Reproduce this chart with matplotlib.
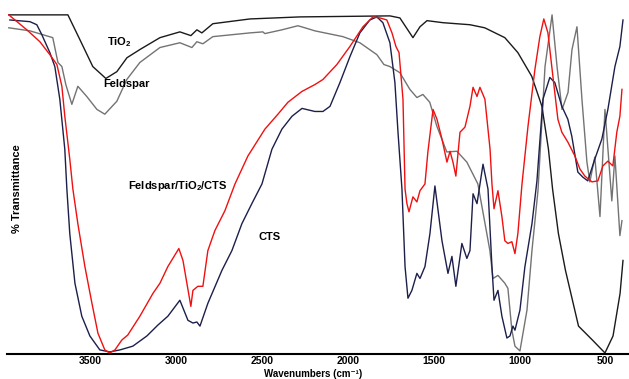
"""FTIR spectra: TiO2, Feldspar, CTS and the Feldspar/TiO2/CTS composite."""
import matplotlib

matplotlib.use("Agg")
import matplotlib.pyplot as plt  # noqa: E402

plt.rcParams["font.family"] = ["Liberation Sans", "DejaVu Sans"]
plt.rcParams["font.weight"] = "bold"
plt.rcParams["mathtext.fontset"] = "custom"
plt.rcParams["mathtext.rm"] = "Liberation Sans:bold"
plt.rcParams["mathtext.it"] = "Liberation Sans:bold"
plt.rcParams["mathtext.bf"] = "Liberation Sans:bold"

# --- data (wavenumber cm-1, %T arbitrary 0-100) ---
tio2_wn = [3976, 3632, 3562, 3487, 3411, 3347, 3288, 3213, 3096, 2980, 2916, 2881,
           2852, 2788, 2572, 2281, 1757, 1699, 1623, 1582, 1541, 1448, 1291, 1205,
           1088, 1012, 931, 872, 834, 810, 776, 735, 659, 578, 505, 458, 417, 400]
tio2_t = [99.7, 99.7, 92.4, 84.5, 81.0, 83.0, 87.1, 89.5, 93.0, 94.7, 93.6, 95.3,
          94.4, 97.1, 98.5, 99.1, 99.4, 98.8, 93.0, 96.2, 98.0, 97.4, 96.8, 95.9,
          93.0, 88.6, 81.6, 72.8, 60.2, 48.5, 35.4, 24.6, 8.2, 4.1, 0.3, 5.3, 17.8, 27.5]

feld_wn = [3976, 3853, 3720, 3690, 3667, 3644, 3609, 3574, 3522, 3463, 3417, 3347,
           3289, 3213, 3096, 2980, 2910, 2881, 2846, 2788, 2572, 2497, 2485, 2386,
           2293, 2252, 2194, 2031, 1932, 1833, 1792, 1757, 1699, 1641, 1600, 1565,
           1525, 1484, 1426, 1367, 1309, 1245, 1175, 1157, 1128, 1088, 1070, 1047,
           1029, 1000, 959, 930, 895, 854, 813, 784, 755, 720, 697, 668, 639, 610,
           593, 564, 534, 505, 465, 447, 418, 406]
feld_t = [95.9, 95.0, 93.0, 85.7, 84.5, 79.2, 73.4, 78.7, 75.7, 71.9, 70.5, 74.3,
          80.7, 85.7, 90.1, 91.5, 90.1, 91.8, 91.2, 93.3, 94.4, 94.7, 94.2, 95.3,
          96.5, 95.9, 95.0, 93.3, 91.5, 88.0, 85.1, 84.5, 82.7, 77.8, 75.4, 76.3,
          74.0, 67.0, 59.4, 59.6, 56.4, 50.0, 30.4, 22.2, 23.1, 20.8, 19.3, 7.0,
          2.3, 0.9, 12.9, 30.4, 48.0, 84.5, 99.7, 84.5, 71.9, 76.9, 89.5, 96.2,
          74.9, 56.4, 50.6, 57.9, 40.4, 71.9, 45.0, 58.2, 34.8, 39.2]

cts_wn = [3970, 3853, 3813, 3784, 3737, 3708, 3679, 3650, 3638, 3621, 3591, 3551,
          3504, 3446, 3388, 3329, 3254, 3172, 3108, 3050, 2980, 2933, 2904, 2881,
          2863, 2817, 2735, 2677, 2619, 2561, 2502, 2444, 2386, 2327, 2269, 2194,
          2147, 2106, 2048, 1990, 1932, 1874, 1833, 1798, 1757, 1728, 1710, 1687,
          1669, 1652, 1629, 1600, 1582, 1553, 1524, 1495, 1454, 1419, 1396, 1373,
          1338, 1309, 1291, 1273, 1250, 1215, 1186, 1163, 1151, 1128, 1105, 1076,
          1058, 1041, 1029, 1000, 971, 930, 901, 866, 826, 797, 756, 721, 698, 663,
          634, 605, 564, 523, 488, 447, 418, 400]
cts_t = [98.2, 97.7, 96.8, 93.9, 88.6, 84.5, 74.9, 60.2, 48.5, 35.4, 20.8, 11.1,
         5.3, 1.2, 0.6, 1.2, 2.3, 5.3, 8.5, 11.1, 15.8, 9.9, 9.1, 9.4,
         8.2, 14.9, 24.6, 30.4, 38.3, 44.2, 50.0, 60.2, 66.1, 69.9, 72.2, 71.3,
         71.3, 72.8, 79.8, 87.4, 94.4, 98.2, 99.1, 97.4, 91.5, 79.8, 65.2, 48.5,
         25.7, 16.4, 18.7, 23.7, 22.2, 25.7, 35.4, 49.4, 33.3, 23.7, 28.7, 19.9,
         32.5, 28.1, 30.4, 47.1, 44.2, 55.8, 48.5, 25.7, 15.8, 18.7, 11.1, 4.7,
         5.3, 8.2, 7.0, 12.9, 25.7, 38.3, 50.9, 74.9, 81.3, 79.8, 72.8, 69.0, 64.0, 53.5,
         52.0, 50.9, 57.3, 63.2, 71.9, 84.5, 90.4, 98.2]

comp_wn = [3976, 3871, 3795, 3737, 3696, 3667, 3650, 3621, 3603, 3574, 3533, 3492,
           3457, 3417, 3388, 3358, 3318, 3283, 3213, 3137, 3096, 3050, 2986, 2962,
           2916, 2904, 2875, 2846, 2817, 2776, 2718, 2659, 2584, 2485, 2409, 2351,
           2269, 2194, 2147, 2066, 1990, 1914, 1856, 1815, 1775, 1745, 1722, 1704,
           1681, 1669, 1658, 1646, 1623, 1600, 1582, 1553, 1536, 1506, 1483, 1454,
           1425, 1407, 1390, 1373, 1349, 1320, 1291, 1273, 1250, 1233, 1204, 1174,
           1163, 1151, 1128, 1105, 1088, 1070, 1047, 1029, 1012, 988, 953, 913, 884,
           861, 837, 808, 779, 756, 721, 680, 651, 622, 581, 546, 517, 488, 459,
           436, 418, 406]
comp_t = [99.7, 95.3, 91.8, 88.0, 85.1, 78.7, 69.9, 57.3, 48.5, 38.3, 25.7, 14.9,
          6.1, 1.2, 0.3, 1.2, 4.1, 5.6, 11.1, 17.8, 20.8, 25.7, 31.0, 27.5,
          14.0, 18.7, 19.9, 19.9, 30.4, 36.3, 42.1, 50.0, 58.2, 66.1, 70.5, 74.0,
          77.2, 79.2, 80.7, 85.1, 90.4, 96.2, 99.1, 98.8, 98.2, 94.4, 90.4, 88.6,
          74.9, 48.5, 44.2, 41.8, 46.2, 44.7, 48.0, 50.0, 59.4, 71.9, 69.0, 63.2,
          56.4, 59.6, 56.4, 52.3, 65.2, 66.7, 72.8, 78.4, 75.7, 78.4, 74.9, 60.2,
          50.0, 42.7, 48.0, 40.4, 33.3, 32.5, 33.0, 29.5, 35.4, 50.0, 67.0, 83.6, 93.3,
          98.5, 94.4, 81.6, 69.0, 65.2, 62.3, 58.2, 54.4, 52.3, 50.6, 50.9, 55.3, 56.7, 55.3,
          65.2, 69.9, 77.8]

xticks = [3500, 3000, 2500, 2000, 1500, 1000, 500]

fig = plt.figure(figsize=(6.29, 3.79), dpi=100)
ax = fig.add_axes([0.011, 0.0660, 0.989, 0.9208])

ax.plot(feld_wn, feld_t, color="#737373", lw=1.0)
ax.plot(tio2_wn, tio2_t, color="#1a1a1a", lw=1.0)
ax.plot(cts_wn, cts_t, color="#1c1f4a", lw=1.0)
ax.plot(comp_wn, comp_t, color="#f01010", lw=1.0)

ax.set_xlim(3987, 365)
ax.set_ylim(0, 102.6)
ax.set_xticks(xticks)
ax.set_yticks([])
ax.tick_params(axis="x", length=0, pad=1.5, labelsize=7.5)
for lab in ax.get_xticklabels():
    lab.set_fontweight("bold")
for s in ("left", "top", "right"):
    ax.spines[s].set_visible(False)
ax.spines["bottom"].set_linewidth(1.5)
ax.spines["bottom"].set_color("black")

# curve labels
ax.text(3330, 91.8, r"TiO$_2$", fontsize=8, fontweight="bold", ha="center", va="center")
ax.text(3290, 79.5, "Feldspar", fontsize=8, fontweight="bold", ha="center", va="center")
ax.text(2990, 49.4, r"Feldspar/TiO$_2$/CTS", fontsize=8, fontweight="bold",
        ha="center", va="center")
ax.text(2455, 34.5, "CTS", fontsize=8, fontweight="bold", ha="center", va="center")

fig.text(17 / 629, 0.501, "% Transmittance", rotation=90, fontsize=8,
         fontweight="bold", ha="center", va="center")
fig.text(313 / 629, 0.001, "Wavenumbers (cm\u207b\u00b9)", fontsize=7,
         fontweight="bold", ha="center", va="bottom",
         family=["Liberation Sans", "DejaVu Sans"])

fig.savefig("out.png", dpi=100, facecolor="white")
